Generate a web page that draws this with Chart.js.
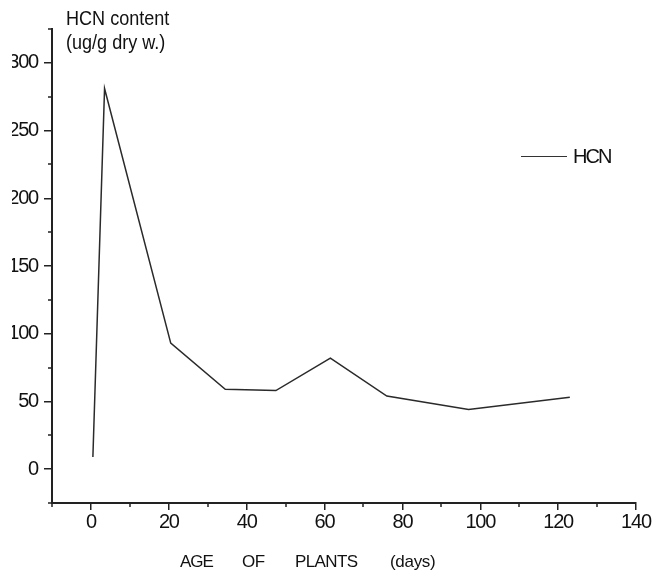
<!DOCTYPE html>
<html>
<head>
<meta charset="utf-8">
<script src="https://cdn.jsdelivr.net/npm/chart.js@4/dist/chart.umd.min.js"></script>
<style>
  html, body { margin: 0; padding: 0; background: #fff; }
  #wrap { position: relative; width: 653px; height: 575px; }
  canvas { position: absolute; left: 0; top: 0; }
  .t { position: absolute; font-family: "Liberation Sans", Arial, sans-serif; color: #111; white-space: pre; line-height: 21px; transform-origin: 0 0; }
</style>
</head>
<body>
<div id="wrap">
  <canvas id="c" width="653" height="575"></canvas>
  <div class="t" style="left:66px; top:7px; font-size:21px; transform:scaleX(0.86);">HCN content</div>
  <div class="t" style="left:66px; top:31px; font-size:21px; transform:scaleX(0.86);">(ug/g dry w.)</div>
  <div class="t" style="left:180px; top:551px; font-size:17px; letter-spacing:-1px;">AGE</div>
  <div class="t" style="left:242px; top:551px; font-size:17px; letter-spacing:-0.5px;">OF</div>
  <div class="t" style="left:295px; top:551px; font-size:17px; letter-spacing:-0.6px;">PLANTS</div>
  <div class="t" style="left:390px; top:551px; font-size:17px; letter-spacing:-0.3px;">(days)</div>
  <div style="position:absolute; left:521px; top:156px; width:46px; height:0; border-top:1.5px solid #333;"></div>
  <div class="t" style="left:573px; top:146px; font-size:20px; letter-spacing:-2px;">HCN</div>
</div>
<script>
const ages = [0.5, 3.5, 20.5, 34.5, 47.5, 61.5, 76, 97, 123];
const hcnValues = [9, 281, 93, 59, 58, 82, 54, 44, 53];
const xTickValues = [0, 20, 40, 60, 80, 100, 120, 140];
const yTickValues = [0, 50, 100, 150, 200, 250, 300];
const xMinorValues = [-10, 10, 30, 50, 70, 90, 110, 130];
const yMinorValues = [-25, 25, 75, 125, 175, 225, 275, 325];
const seriesName = 'HCN';

const tightText = {
  id: 'tightText',
  beforeDraw(chart) { chart.ctx.letterSpacing = '-1.2px'; },
  beforeLayout(chart) { chart.ctx.letterSpacing = '-1.2px'; }
};

const minorTicks = {
  id: 'minorTicks',
  afterDraw(chart) {
    const ctx = chart.ctx, xs = chart.scales.x, ys = chart.scales.y, a = chart.chartArea;
    ctx.save();
    ctx.strokeStyle = '#222';
    ctx.lineWidth = 1.5;
    ctx.beginPath();
    xMinorValues.forEach(v => {
      const px = Math.round(xs.getPixelForValue(v));
      ctx.moveTo(px, a.bottom); ctx.lineTo(px, a.bottom + 4);
    });
    yMinorValues.forEach(v => {
      const py = Math.round(ys.getPixelForValue(v));
      ctx.moveTo(a.left, py); ctx.lineTo(a.left - 4, py);
    });
    ctx.stroke();
    ctx.restore();
  }
};

const tickFont = { family: '"Liberation Sans", Arial, sans-serif', size: 20 };

new Chart(document.getElementById('c'), {
  type: 'scatter',
  data: {
    datasets: [{
      label: seriesName,
      data: ages.map((a, i) => ({ x: a, y: hcnValues[i] })),
      showLine: true,
      borderColor: '#2a2a2a',
      borderWidth: 1.5,
      pointRadius: 0,
      tension: 0,
      fill: false
    }]
  },
  options: {
    responsive: false,
    animation: false,
    devicePixelRatio: 1,
    layout: { padding: { left: 12, top: 29, right: 17, bottom: 32 } },
    plugins: { legend: { display: false }, tooltip: { enabled: false } },
    scales: {
      x: {
        type: 'linear', min: -10, max: 140,
        afterBuildTicks: s => { s.ticks = xTickValues.map(v => ({ value: v })); },
        afterFit: s => { s.height = 40; s.paddingLeft = 0; s.paddingRight = 0; },
        grid: { drawOnChartArea: false, drawTicks: true, tickLength: 7, color: '#222', lineWidth: 1.5 },
        border: { display: true, color: '#222', width: 2 },
        ticks: { color: '#111', font: tickFont, padding: 0, maxRotation: 0 }
      },
      y: {
        type: 'linear', min: -25, max: 325,
        afterBuildTicks: s => { s.ticks = yTickValues.map(v => ({ value: v })); },
        afterFit: s => { s.width = 40; s.paddingTop = 0; s.paddingBottom = 0; },
        grid: { drawOnChartArea: false, drawTicks: true, tickLength: 8, color: '#222', lineWidth: 1.5 },
        border: { display: true, color: '#222', width: 2 },
        ticks: { color: '#111', font: tickFont, padding: 6 }
      }
    }
  },
  plugins: [tightText, minorTicks]
});
</script>
</body>
</html>
